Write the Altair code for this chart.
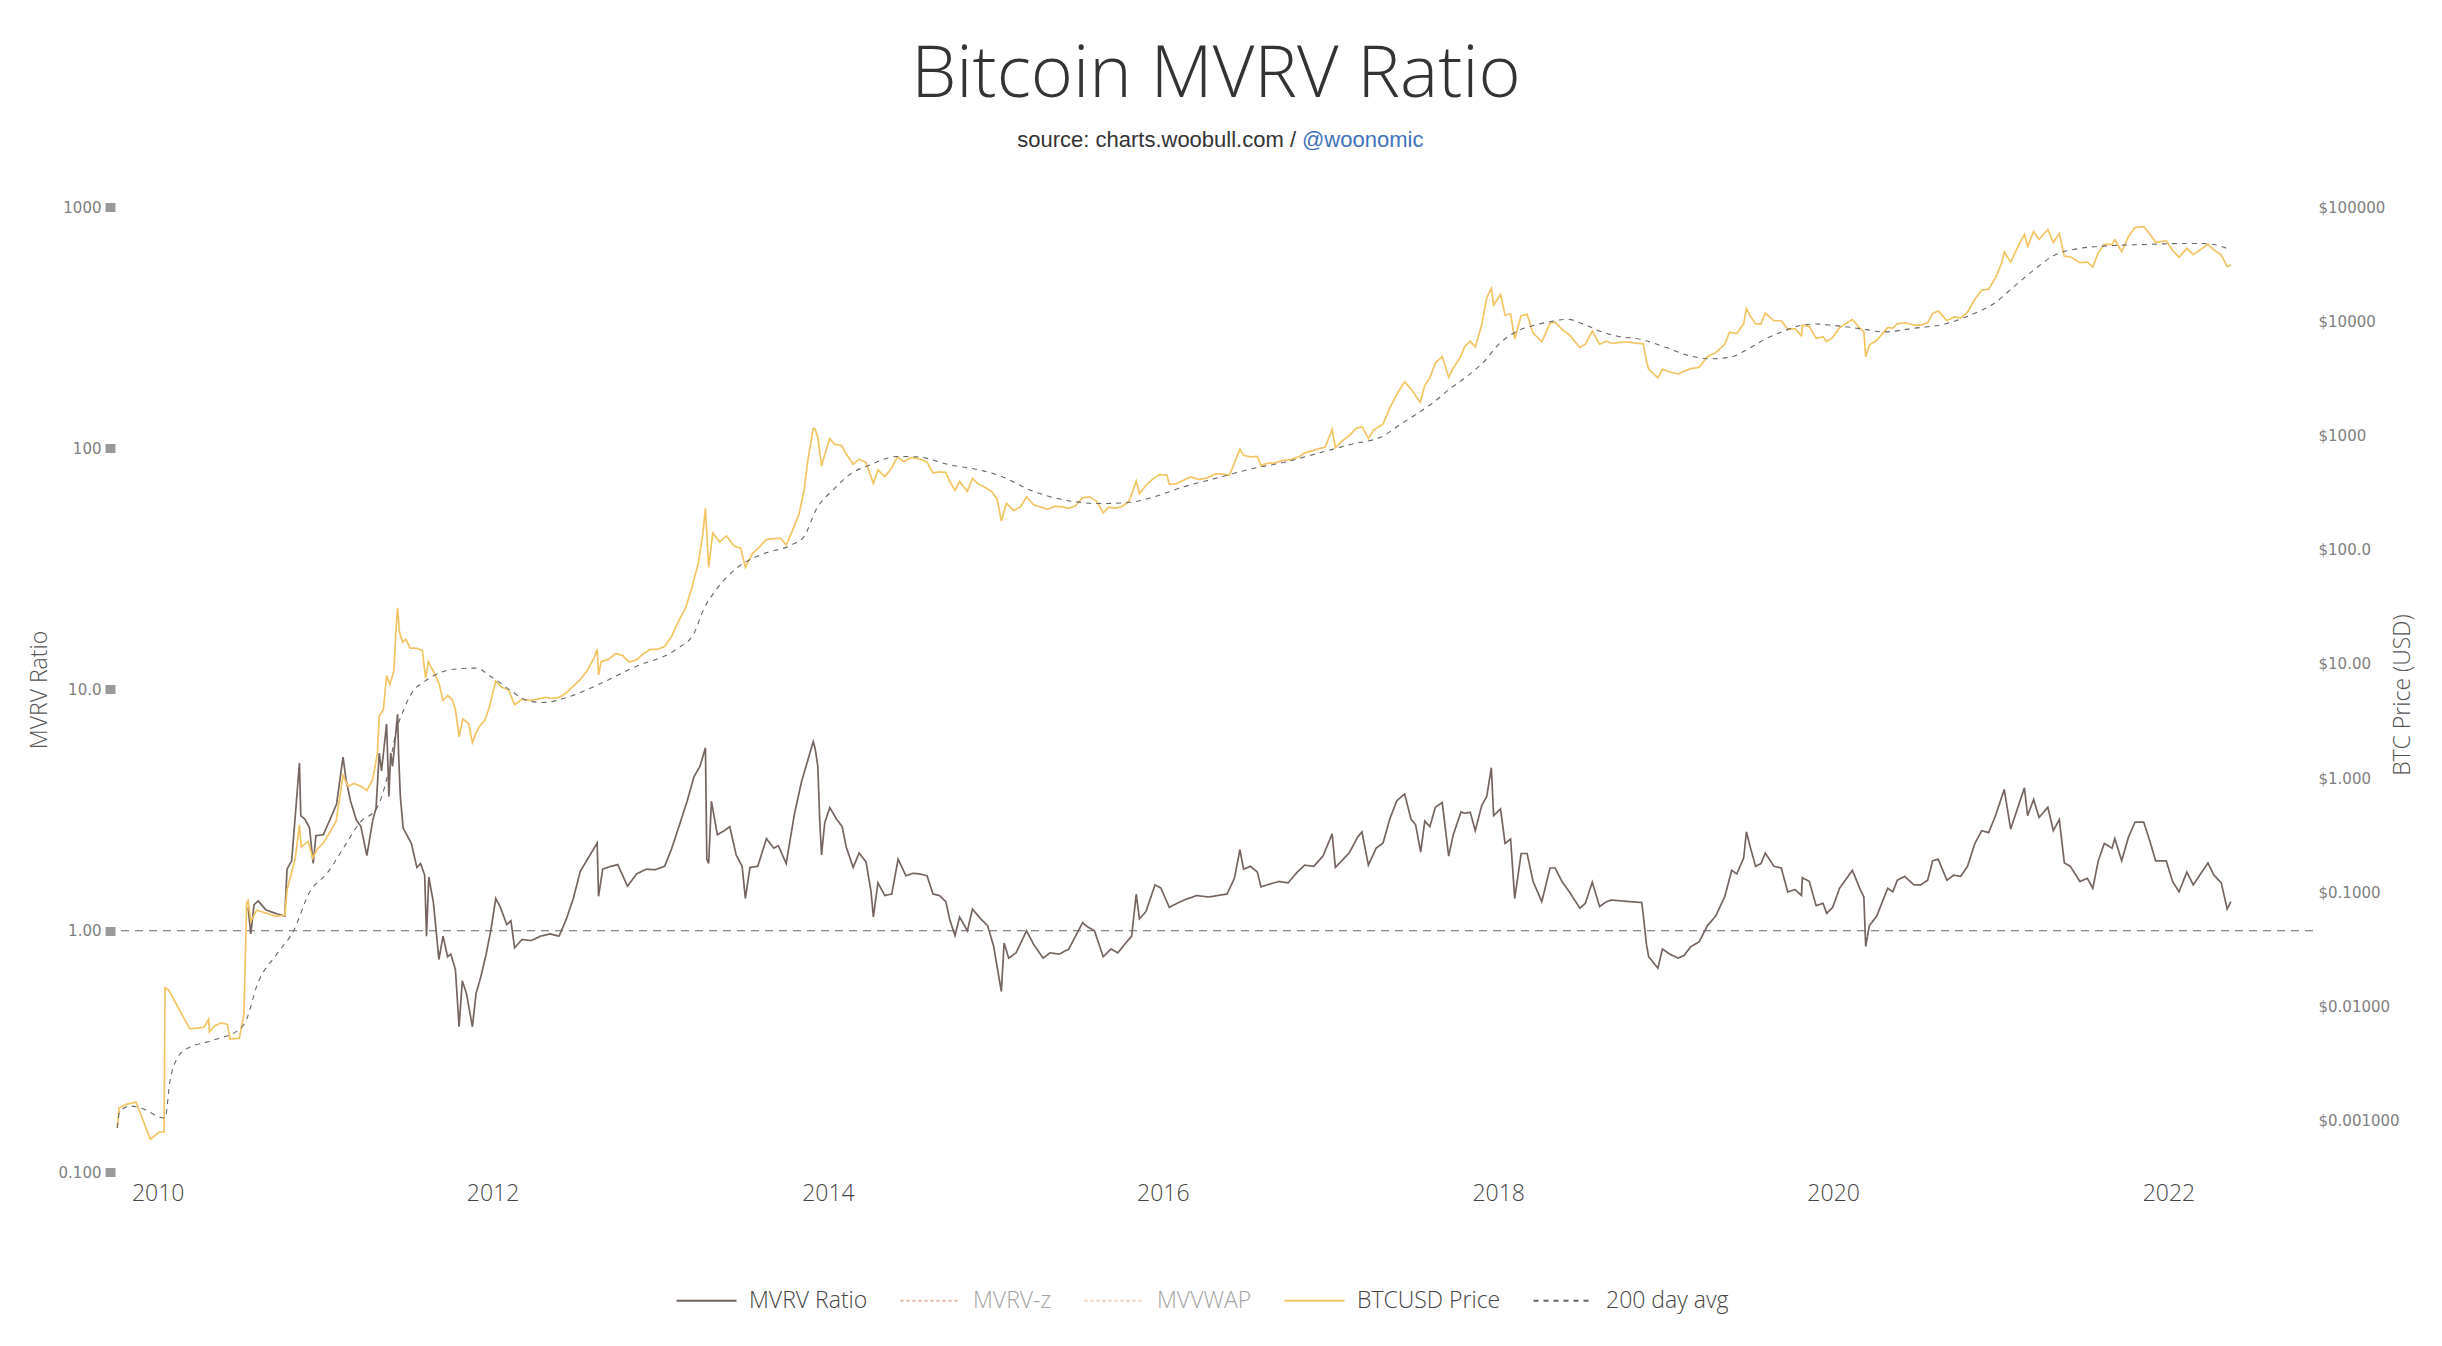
import altair as alt
import pandas as pd

# ---------------- series data ----------------
# BTCUSD daily price (USD), sampled at turning points
btc_price = [
    ("2009-10-05", 0.00087), ("2009-10-09", 0.0013), ("2009-10-25", 0.0014), ("2009-11-15", 0.00146),
    ("2009-12-16", 0.00069), ("2010-01-05", 0.0008), ("2010-01-15", 0.0008), ("2010-01-17", 0.0147),
    ("2010-01-25", 0.0140), ("2010-03-12", 0.0064), ("2010-04-12", 0.0066), ("2010-04-22", 0.0078),
    ("2010-04-24", 0.0060), ("2010-05-05", 0.0068), ("2010-05-20", 0.0072), ("2010-06-02", 0.0070),
    ("2010-06-08", 0.0052), ("2010-06-28", 0.0053), ("2010-07-08", 0.0087), ("2010-07-14", 0.081),
    ("2010-07-17", 0.085), ("2010-07-23", 0.056), ("2010-08-05", 0.070), ("2010-08-25", 0.066),
    ("2010-09-15", 0.062), ("2010-10-05", 0.063), ("2010-10-10", 0.105), ("2010-10-20", 0.15),
    ("2010-10-28", 0.20), ("2010-11-06", 0.39), ("2010-11-10", 0.25), ("2010-11-25", 0.28),
    ("2010-12-05", 0.20), ("2010-12-15", 0.24), ("2010-12-28", 0.27), ("2011-01-10", 0.33),
    ("2011-01-25", 0.42), ("2011-02-09", 1.06), ("2011-02-20", 0.85), ("2011-03-05", 0.90),
    ("2011-03-20", 0.85), ("2011-04-02", 0.78), ("2011-04-15", 0.98), ("2011-04-25", 1.65),
    ("2011-04-29", 3.5), ("2011-05-08", 4.0), ("2011-05-15", 7.9), ("2011-05-22", 6.6),
    ("2011-05-31", 8.7), ("2011-06-04", 18.5), ("2011-06-08", 31.0), ("2011-06-12", 19.0),
    ("2011-06-19", 15.5), ("2011-06-26", 16.5), ("2011-07-05", 13.8), ("2011-07-20", 13.7),
    ("2011-08-01", 13.1), ("2011-08-08", 7.5), ("2011-08-14", 10.5), ("2011-08-25", 8.6),
    ("2011-09-06", 6.8), ("2011-09-15", 4.8), ("2011-09-25", 5.3), ("2011-10-05", 4.9),
    ("2011-10-12", 4.0), ("2011-10-20", 2.3), ("2011-10-28", 3.3), ("2011-11-10", 3.0),
    ("2011-11-18", 2.05), ("2011-11-26", 2.5), ("2011-12-05", 2.9), ("2011-12-15", 3.2),
    ("2011-12-25", 4.2), ("2012-01-08", 7.1), ("2012-01-20", 6.3), ("2012-02-05", 5.9),
    ("2012-02-18", 4.4), ("2012-03-05", 4.9), ("2012-03-20", 4.8), ("2012-04-05", 4.9),
    ("2012-04-25", 5.1), ("2012-05-10", 5.0), ("2012-05-25", 5.1), ("2012-06-10", 5.6),
    ("2012-06-25", 6.4), ("2012-07-10", 7.3), ("2012-07-25", 8.7), ("2012-08-10", 11.5),
    ("2012-08-16", 13.5), ("2012-08-19", 8.0), ("2012-08-25", 10.5), ("2012-09-10", 11.0),
    ("2012-09-25", 12.3), ("2012-10-10", 11.9), ("2012-10-25", 10.4), ("2012-11-10", 10.9),
    ("2012-11-25", 12.3), ("2012-12-10", 13.4), ("2012-12-25", 13.4), ("2013-01-10", 14.2),
    ("2013-01-25", 17.4), ("2013-02-10", 24), ("2013-02-25", 31), ("2013-03-10", 46),
    ("2013-03-25", 78), ("2013-04-03", 135), ("2013-04-09", 230), ("2013-04-16", 70),
    ("2013-04-25", 140), ("2013-05-10", 117), ("2013-05-25", 132), ("2013-06-10", 108),
    ("2013-06-25", 103), ("2013-07-05", 70), ("2013-07-20", 92), ("2013-08-05", 106),
    ("2013-08-20", 123), ("2013-09-05", 125), ("2013-09-20", 126), ("2013-10-02", 110),
    ("2013-10-15", 145), ("2013-10-30", 205), ("2013-11-10", 330), ("2013-11-18", 600),
    ("2013-11-30", 1150), ("2013-12-04", 1140), ("2013-12-10", 960), ("2013-12-18", 540),
    ("2013-12-25", 680), ("2014-01-05", 940), ("2014-01-15", 840), ("2014-01-30", 820),
    ("2014-02-10", 690), ("2014-02-25", 560), ("2014-03-10", 620), ("2014-03-25", 580),
    ("2014-04-10", 380), ("2014-04-20", 500), ("2014-05-05", 435), ("2014-05-20", 520),
    ("2014-06-01", 650), ("2014-06-15", 590), ("2014-07-01", 640), ("2014-07-20", 625),
    ("2014-08-05", 585), ("2014-08-18", 470), ("2014-09-01", 480), ("2014-09-15", 475),
    ("2014-09-23", 400), ("2014-10-05", 330), ("2014-10-15", 395), ("2014-11-01", 325),
    ("2014-11-12", 420), ("2014-11-25", 375), ("2014-12-10", 350), ("2014-12-25", 320),
    ("2015-01-05", 275), ("2015-01-14", 178), ("2015-01-25", 255), ("2015-02-10", 220),
    ("2015-02-25", 238), ("2015-03-10", 290), ("2015-03-25", 248), ("2015-04-10", 236),
    ("2015-04-25", 226), ("2015-05-10", 240), ("2015-05-25", 238), ("2015-06-10", 230),
    ("2015-06-25", 243), ("2015-07-10", 285), ("2015-07-25", 290), ("2015-08-10", 265),
    ("2015-08-24", 210), ("2015-09-05", 235), ("2015-09-20", 231), ("2015-10-05", 240),
    ("2015-10-20", 269), ("2015-11-04", 400), ("2015-11-11", 310), ("2015-11-25", 365),
    ("2015-12-10", 415), ("2015-12-25", 455), ("2016-01-10", 448), ("2016-01-15", 375),
    ("2016-01-30", 378), ("2016-02-15", 405), ("2016-03-01", 433), ("2016-03-20", 412),
    ("2016-04-05", 423), ("2016-04-25", 462), ("2016-05-10", 460), ("2016-05-25", 448),
    ("2016-06-05", 575), ("2016-06-17", 760), ("2016-06-25", 670), ("2016-07-10", 650),
    ("2016-07-25", 655), ("2016-08-02", 545), ("2016-08-15", 570), ("2016-09-01", 575),
    ("2016-09-20", 608), ("2016-10-05", 612), ("2016-10-25", 655), ("2016-11-05", 705),
    ("2016-11-20", 730), ("2016-12-05", 765), ("2016-12-20", 790), ("2017-01-04", 1130),
    ("2017-01-11", 780), ("2017-01-25", 890), ("2017-02-10", 995), ("2017-02-25", 1150),
    ("2017-03-10", 1200), ("2017-03-24", 940), ("2017-04-05", 1120), ("2017-04-25", 1260),
    ("2017-05-10", 1750), ("2017-05-25", 2300), ("2017-06-11", 2950), ("2017-06-25", 2550),
    ("2017-07-15", 1950), ("2017-07-25", 2750), ("2017-08-05", 3200), ("2017-08-17", 4300),
    ("2017-09-01", 4900), ("2017-09-15", 3230), ("2017-09-25", 3900), ("2017-10-10", 4800),
    ("2017-10-20", 5990), ("2017-11-01", 6700), ("2017-11-12", 5950), ("2017-11-26", 9300),
    ("2017-12-07", 16000), ("2017-12-17", 19400), ("2017-12-22", 13800), ("2018-01-06", 17200),
    ("2018-01-16", 11300), ("2018-01-28", 11600), ("2018-02-06", 7000), ("2018-02-20", 11200),
    ("2018-03-05", 11500), ("2018-03-18", 7900), ("2018-04-06", 6600), ("2018-04-24", 9600),
    ("2018-05-05", 9800), ("2018-05-20", 8500), ("2018-06-05", 7600), ("2018-06-28", 5900),
    ("2018-07-10", 6300), ("2018-07-25", 8200), ("2018-08-10", 6300), ("2018-08-25", 6700),
    ("2018-09-05", 6400), ("2018-09-20", 6500), ("2018-10-10", 6600), ("2018-10-25", 6450),
    ("2018-11-13", 6350), ("2018-11-20", 4500), ("2018-11-25", 3800), ("2018-12-15", 3200),
    ("2018-12-25", 3800), ("2019-01-10", 3600), ("2019-01-28", 3450), ("2019-02-10", 3650),
    ("2019-02-25", 3850), ("2019-03-15", 3950), ("2019-04-02", 4900), ("2019-04-20", 5300),
    ("2019-05-10", 6300), ("2019-05-20", 8000), ("2019-06-05", 7800), ("2019-06-20", 9500),
    ("2019-06-26", 12900), ("2019-07-05", 11000), ("2019-07-16", 9500), ("2019-07-28", 9500),
    ("2019-08-06", 11800), ("2019-08-25", 10100), ("2019-09-10", 10100), ("2019-09-24", 8500),
    ("2019-10-10", 8600), ("2019-10-24", 7450), ("2019-10-26", 9250), ("2019-11-10", 9000),
    ("2019-11-25", 7100), ("2019-12-10", 7300), ("2019-12-18", 6650), ("2019-12-31", 7200),
    ("2020-01-15", 8800), ("2020-02-12", 10350), ("2020-02-28", 8700), ("2020-03-08", 8100),
    ("2020-03-12", 4900), ("2020-03-20", 6200), ("2020-04-05", 6800), ("2020-04-29", 8800),
    ("2020-05-10", 8700), ("2020-05-20", 9500), ("2020-06-05", 9700), ("2020-06-25", 9250),
    ("2020-07-10", 9250), ("2020-07-25", 9700), ("2020-08-05", 11700), ("2020-08-17", 12300),
    ("2020-09-05", 10100), ("2020-09-20", 10900), ("2020-10-05", 10700), ("2020-10-20", 12000),
    ("2020-11-05", 15600), ("2020-11-20", 18700), ("2020-12-05", 19100), ("2020-12-20", 24000),
    ("2021-01-03", 32800), ("2021-01-08", 40500), ("2021-01-22", 33000), ("2021-02-08", 46000),
    ("2021-02-21", 57500), ("2021-02-28", 45200), ("2021-03-13", 61000), ("2021-03-25", 52000),
    ("2021-04-13", 63500), ("2021-04-25", 49000), ("2021-05-08", 58800), ("2021-05-19", 37000),
    ("2021-06-01", 36700), ("2021-06-22", 32500), ("2021-07-08", 33000), ("2021-07-20", 29800),
    ("2021-08-01", 39900), ("2021-08-14", 47000), ("2021-08-31", 47100), ("2021-09-06", 51700),
    ("2021-09-21", 40700), ("2021-10-06", 55300), ("2021-10-20", 66000), ("2021-11-08", 67500),
    ("2021-11-20", 59000), ("2021-12-04", 49000), ("2021-12-27", 50700), ("2022-01-10", 41800),
    ("2022-01-24", 36300), ("2022-02-10", 43500), ("2022-02-24", 38300), ("2022-03-28", 47100),
    ("2022-04-10", 42100), ("2022-04-26", 38100), ("2022-05-09", 30000), ("2022-05-17", 31300),
]

# 200 day moving average of the price (USD)
btc_200d_avg = [
    ("2009-10-05", 0.00087), ("2009-10-10", 0.0012), ("2009-11-02", 0.00135), ("2009-11-24", 0.0013),
    ("2010-01-17", 0.00106), ("2010-01-28", 0.00226), ("2010-02-12", 0.0035), ("2010-03-06", 0.0043),
    ("2010-04-25", 0.0050), ("2010-06-30", 0.0064), ("2010-07-14", 0.0078), ("2010-08-05", 0.0152),
    ("2010-09-18", 0.029), ("2010-10-24", 0.046), ("2010-11-29", 0.102), ("2011-01-05", 0.147),
    ("2011-02-10", 0.245), ("2011-03-18", 0.41), ("2011-04-24", 0.55), ("2011-05-16", 1.01),
    ("2011-06-06", 2.67), ("2011-06-21", 3.96), ("2011-07-13", 5.9), ("2011-08-03", 6.9),
    ("2011-09-09", 8.4), ("2011-10-22", 9.1), ("2011-11-28", 9.2), ("2011-12-27", 7.8),
    ("2012-01-10", 7.2), ("2012-02-08", 5.9), ("2012-03-16", 4.8), ("2012-04-21", 4.6),
    ("2012-06-18", 5.2), ("2012-08-22", 6.7), ("2012-11-03", 9.3), ("2013-02-06", 13.6),
    ("2013-03-14", 18.2), ("2013-04-05", 30), ("2013-05-04", 45.5), ("2013-06-16", 69),
    ("2013-08-13", 92), ("2013-10-11", 109), ("2013-11-09", 129), ("2013-12-08", 231),
    ("2014-01-13", 336), ("2014-02-18", 457), ("2014-04-03", 553), ("2014-05-31", 655),
    ("2014-07-14", 650), ("2014-09-24", 553), ("2014-12-06", 490), ("2015-01-11", 443),
    ("2015-03-25", 324), ("2015-06-06", 270), ("2015-08-17", 254), ("2015-10-15", 258),
    ("2015-12-04", 283), ("2016-02-15", 355), ("2016-04-28", 424), ("2016-07-09", 508),
    ("2016-09-20", 581), ("2016-12-02", 695), ("2017-02-12", 832), ("2017-04-26", 994),
    ("2017-06-01", 1244), ("2017-07-08", 1550), ("2017-08-13", 1950), ("2017-09-18", 2570),
    ("2017-10-25", 3290), ("2017-11-30", 4390), ("2018-01-05", 6440), ("2018-02-11", 8180),
    ("2018-03-19", 9180), ("2018-04-24", 9910), ("2018-05-31", 10400), ("2018-07-06", 9450),
    ("2018-08-11", 8180), ("2018-09-16", 7420), ("2018-11-10", 6920), ("2019-01-04", 5850),
    ("2019-02-23", 4970), ("2019-04-08", 4690), ("2019-05-21", 4840), ("2019-07-04", 5850),
    ("2019-08-09", 7080), ("2019-09-15", 8180), ("2019-10-21", 9180), ("2019-11-26", 9450),
    ("2020-01-02", 9180), ("2020-02-07", 8850), ("2020-03-14", 8440), ("2020-04-20", 8070),
    ("2020-06-24", 8670), ("2020-09-05", 9550), ("2020-11-02", 11640), ("2020-12-15", 14140),
    ("2021-01-28", 19900), ("2021-03-13", 28000), ("2021-04-25", 37400), ("2021-06-22", 43400),
    ("2021-09-03", 46000), ("2021-11-15", 47000), ("2022-01-26", 47900), ("2022-03-11", 47900),
    ("2022-04-09", 47000), ("2022-05-17", 42100),
]

# MVRV ratio (market value / realised value)
mvrv_ratio = [
    ("2010-07-17", 1.25), ("2010-07-23", 0.97), ("2010-07-30", 1.28), ("2010-08-08", 1.33),
    ("2010-08-25", 1.22), ("2010-09-15", 1.18), ("2010-10-05", 1.15), ("2010-10-10", 1.80),
    ("2010-10-20", 1.95), ("2010-10-28", 3.0), ("2010-11-06", 4.96), ("2010-11-09", 3.0),
    ("2010-11-18", 2.9), ("2010-11-28", 2.67), ("2010-12-06", 1.9), ("2010-12-12", 2.48),
    ("2010-12-28", 2.5), ("2011-01-12", 2.9), ("2011-01-26", 3.35), ("2011-02-09", 5.25),
    ("2011-02-16", 4.19), ("2011-02-25", 3.47), ("2011-03-10", 2.88), ("2011-03-20", 2.7),
    ("2011-04-02", 2.05), ("2011-04-15", 2.88), ("2011-04-22", 3.22), ("2011-04-29", 5.45),
    ("2011-05-04", 4.6), ("2011-05-15", 7.2), ("2011-05-20", 3.6), ("2011-05-24", 5.45),
    ("2011-05-28", 4.8), ("2011-06-08", 7.9), ("2011-06-10", 5.5), ("2011-06-14", 3.6),
    ("2011-06-20", 2.67), ("2011-06-28", 2.5), ("2011-07-08", 2.3), ("2011-07-20", 1.83),
    ("2011-07-28", 1.9), ("2011-08-06", 1.70), ("2011-08-10", 0.95), ("2011-08-15", 1.67),
    ("2011-08-25", 1.31), ("2011-09-06", 0.76), ("2011-09-15", 0.95), ("2011-09-25", 0.78),
    ("2011-10-02", 0.80), ("2011-10-12", 0.69), ("2011-10-20", 0.40), ("2011-10-27", 0.62),
    ("2011-11-05", 0.55), ("2011-11-18", 0.40), ("2011-11-26", 0.55), ("2011-12-06", 0.64),
    ("2011-12-18", 0.80), ("2011-12-28", 1.0), ("2012-01-08", 1.36), ("2012-01-18", 1.25),
    ("2012-02-01", 1.06), ("2012-02-10", 1.1), ("2012-02-18", 0.85), ("2012-03-05", 0.92),
    ("2012-03-25", 0.91), ("2012-04-15", 0.95), ("2012-05-05", 0.97), ("2012-05-25", 0.95),
    ("2012-06-10", 1.12), ("2012-06-25", 1.36), ("2012-07-10", 1.76), ("2012-07-28", 2.01),
    ("2012-08-16", 2.31), ("2012-08-19", 1.39), ("2012-08-28", 1.8), ("2012-09-15", 1.85),
    ("2012-09-30", 1.88), ("2012-10-21", 1.53), ("2012-11-10", 1.72), ("2012-12-01", 1.80),
    ("2012-12-20", 1.79), ("2013-01-10", 1.85), ("2013-01-25", 2.18), ("2013-02-12", 2.77),
    ("2013-02-28", 3.44), ("2013-03-15", 4.35), ("2013-03-28", 4.8), ("2013-04-09", 5.73),
    ("2013-04-12", 1.98), ("2013-04-16", 1.9), ("2013-04-22", 3.44), ("2013-05-05", 2.5),
    ("2013-05-20", 2.6), ("2013-06-01", 2.7), ("2013-06-15", 2.06), ("2013-06-28", 1.85),
    ("2013-07-05", 1.36), ("2013-07-15", 1.83), ("2013-08-01", 1.85), ("2013-08-20", 2.41),
    ("2013-09-05", 2.2), ("2013-09-15", 2.25), ("2013-10-02", 1.9), ("2013-10-20", 3.05),
    ("2013-11-05", 4.19), ("2013-11-30", 6.08), ("2013-12-04", 5.7), ("2013-12-10", 4.8),
    ("2013-12-14", 2.9), ("2013-12-18", 2.06), ("2013-12-25", 2.8), ("2014-01-05", 3.24),
    ("2014-01-20", 2.9), ("2014-02-01", 2.7), ("2014-02-10", 2.22), ("2014-02-25", 1.83),
    ("2014-03-10", 2.1), ("2014-03-25", 1.93), ("2014-04-05", 1.45), ("2014-04-10", 1.14),
    ("2014-04-20", 1.58), ("2014-05-05", 1.4), ("2014-05-20", 1.42), ("2014-06-03", 1.98),
    ("2014-06-20", 1.69), ("2014-07-05", 1.73), ("2014-07-20", 1.72), ("2014-08-05", 1.69),
    ("2014-08-18", 1.42), ("2014-09-01", 1.40), ("2014-09-15", 1.32), ("2014-09-23", 1.12),
    ("2014-10-05", 0.955), ("2014-10-15", 1.14), ("2014-11-01", 1.0), ("2014-11-12", 1.23),
    ("2014-11-30", 1.12), ("2014-12-15", 1.05), ("2014-12-28", 0.865), ("2015-01-14", 0.56),
    ("2015-01-20", 0.89), ("2015-01-30", 0.77), ("2015-02-15", 0.81), ("2015-03-10", 1.0),
    ("2015-03-25", 0.88), ("2015-04-15", 0.77), ("2015-04-30", 0.81), ("2015-05-20", 0.80),
    ("2015-06-10", 0.84), ("2015-07-10", 1.08), ("2015-07-20", 1.04), ("2015-08-05", 1.0),
    ("2015-08-24", 0.78), ("2015-09-10", 0.84), ("2015-09-25", 0.81), ("2015-10-10", 0.88),
    ("2015-10-25", 0.95), ("2015-11-04", 1.42), ("2015-11-11", 1.12), ("2015-11-25", 1.2),
    ("2015-12-15", 1.55), ("2015-12-28", 1.5), ("2016-01-15", 1.25), ("2016-02-01", 1.3),
    ("2016-02-20", 1.35), ("2016-03-15", 1.4), ("2016-04-10", 1.38), ("2016-04-30", 1.40),
    ("2016-05-20", 1.42), ("2016-06-05", 1.65), ("2016-06-17", 2.17), ("2016-06-25", 1.8),
    ("2016-07-10", 1.85), ("2016-07-25", 1.75), ("2016-08-02", 1.52), ("2016-08-20", 1.56),
    ("2016-09-10", 1.6), ("2016-09-30", 1.58), ("2016-10-20", 1.75), ("2016-11-05", 1.87),
    ("2016-11-25", 1.85), ("2016-12-15", 2.04), ("2017-01-04", 2.52), ("2017-01-11", 1.83),
    ("2017-01-25", 1.95), ("2017-02-10", 2.1), ("2017-03-01", 2.45), ("2017-03-10", 2.57),
    ("2017-03-24", 1.87), ("2017-04-10", 2.2), ("2017-04-25", 2.31), ("2017-05-10", 2.92),
    ("2017-05-25", 3.46), ("2017-06-11", 3.69), ("2017-06-25", 2.9), ("2017-07-05", 2.75),
    ("2017-07-16", 2.12), ("2017-07-25", 2.85), ("2017-08-05", 2.7), ("2017-08-17", 3.25),
    ("2017-09-01", 3.4), ("2017-09-15", 2.04), ("2017-09-25", 2.5), ("2017-10-12", 3.11),
    ("2017-10-20", 3.07), ("2017-11-01", 3.1), ("2017-11-12", 2.6), ("2017-11-26", 3.3),
    ("2017-12-07", 3.6), ("2017-12-17", 4.74), ("2017-12-22", 3.0), ("2018-01-06", 3.2),
    ("2018-01-16", 2.3), ("2018-01-28", 2.4), ("2018-02-06", 1.36), ("2018-02-20", 2.09),
    ("2018-03-05", 2.09), ("2018-03-18", 1.6), ("2018-04-06", 1.32), ("2018-04-24", 1.82),
    ("2018-05-05", 1.82), ("2018-05-20", 1.6), ("2018-06-05", 1.45), ("2018-06-28", 1.24),
    ("2018-07-10", 1.3), ("2018-07-25", 1.59), ("2018-08-10", 1.26), ("2018-08-25", 1.32),
    ("2018-09-05", 1.34), ("2018-09-25", 1.33), ("2018-10-15", 1.32), ("2018-11-10", 1.31),
    ("2018-11-15", 1.08), ("2018-11-20", 0.88), ("2018-11-25", 0.78), ("2018-12-15", 0.70),
    ("2018-12-25", 0.84), ("2019-01-10", 0.80), ("2019-01-28", 0.77), ("2019-02-10", 0.79),
    ("2019-02-25", 0.86), ("2019-03-15", 0.9), ("2019-04-02", 1.05), ("2019-04-20", 1.15),
    ("2019-05-10", 1.39), ("2019-05-25", 1.78), ("2019-06-05", 1.72), ("2019-06-20", 2.0),
    ("2019-06-26", 2.57), ("2019-07-05", 2.2), ("2019-07-16", 1.85), ("2019-07-28", 1.9),
    ("2019-08-06", 2.1), ("2019-08-25", 1.85), ("2019-09-10", 1.82), ("2019-09-24", 1.45),
    ("2019-10-10", 1.48), ("2019-10-24", 1.40), ("2019-10-26", 1.66), ("2019-11-10", 1.6),
    ("2019-11-25", 1.27), ("2019-12-10", 1.3), ("2019-12-18", 1.18), ("2019-12-31", 1.25),
    ("2020-01-15", 1.5), ("2020-02-12", 1.78), ("2020-02-28", 1.5), ("2020-03-08", 1.38),
    ("2020-03-12", 0.86), ("2020-03-20", 1.05), ("2020-04-05", 1.15), ("2020-04-29", 1.5),
    ("2020-05-10", 1.45), ("2020-05-20", 1.62), ("2020-06-05", 1.68), ("2020-06-25", 1.55),
    ("2020-07-10", 1.55), ("2020-07-25", 1.62), ("2020-08-05", 1.95), ("2020-08-17", 1.98),
    ("2020-09-05", 1.62), ("2020-09-20", 1.70), ("2020-10-05", 1.68), ("2020-10-20", 1.85),
    ("2020-11-05", 2.3), ("2020-11-20", 2.6), ("2020-12-05", 2.55), ("2020-12-20", 3.0),
    ("2021-01-08", 3.85), ("2021-01-22", 2.64), ("2021-02-08", 3.3), ("2021-02-21", 3.91),
    ("2021-02-28", 3.0), ("2021-03-13", 3.5), ("2021-03-25", 2.95), ("2021-04-13", 3.25),
    ("2021-04-25", 2.6), ("2021-05-08", 2.89), ("2021-05-19", 1.91), ("2021-06-01", 1.85),
    ("2021-06-22", 1.6), ("2021-07-08", 1.65), ("2021-07-20", 1.50), ("2021-08-01", 1.95),
    ("2021-08-14", 2.3), ("2021-08-31", 2.2), ("2021-09-06", 2.41), ("2021-09-21", 1.95),
    ("2021-10-06", 2.45), ("2021-10-20", 2.82), ("2021-11-08", 2.82), ("2021-11-20", 2.4),
    ("2021-12-04", 1.95), ("2021-12-27", 1.95), ("2022-01-10", 1.6), ("2022-01-24", 1.45),
    ("2022-02-10", 1.75), ("2022-02-24", 1.55), ("2022-03-28", 1.91), ("2022-04-10", 1.7),
    ("2022-04-26", 1.58), ("2022-05-09", 1.23), ("2022-05-17", 1.32),
]

series_names = ["MVRV Ratio", "MVRV-z", "MVVWAP", "BTCUSD Price", "200 day avg"]
series_colors = ["#76655f", "#e9b7a4", "#f4d0b8", "#f2c462", "#666666"]
series_dashes = [[1, 0], [3, 3], [3, 3], [1, 0], [5, 5]]

mvrv_ticks = [0.1, 1, 10, 100, 1000]
price_ticks = [0.001, 0.01, 0.1, 1, 10, 100, 1000, 10000, 100000]
year_ticks = [2010, 2012, 2014, 2016, 2018, 2020, 2022]


def frame(rows, name):
    return pd.DataFrame({"date": [r[0] for r in rows], "value": [r[1] for r in rows], "series": name})


data = pd.concat([
    frame(mvrv_ratio, "MVRV Ratio"),
    frame(btc_price, "BTCUSD Price"),
    frame(btc_200d_avg, "200 day avg"),
], ignore_index=True)

W, H = 2198, 965

x_enc = alt.X(
    "date:T",
    title=None,
    scale=alt.Scale(type="utc", domain=["2009-09-30", "2022-11-12"]),
    axis=alt.Axis(
        values=[alt.DateTime(year=y, month=1, date=1, utc=True) for y in year_ticks],
        format="%Y", formatType="utc", ticks=False, domain=False, grid=False,
        labelFont="Open Sans", labelFontWeight=300, labelFontSize=23, labelColor="#444",
        labelPadding=10,
    ),
)

legend = alt.Legend(
    title=None, orient="none", legendX=560, legendY=1062, direction="horizontal",
    symbolType="stroke", symbolSize=3600, symbolStrokeWidth=2.2, padding=0,
    labelFont="Open Sans", labelFontWeight=300, labelFontSize=23, labelOffset=11,
    labelLimit=400, columnPadding=28,
    labelColor=alt.ExprRef(expr="indexof(['MVRV-z','MVVWAP'], datum.label) >= 0 ? '#a3a3a3' : '#444444'"),
)
color_enc = alt.Color("series:N", scale=alt.Scale(domain=series_names, range=series_colors), legend=legend)
dash_enc = alt.StrokeDash("series:N", scale=alt.Scale(domain=series_names, range=series_dashes), legend=legend)

left_axis = alt.Axis(
    values=mvrv_ticks, format=".3r", title="MVRV Ratio", grid=False, domain=False,
    ticks=True, tickSize=10, tickWidth=9, tickCap="butt", tickColor="#9a9a9a", labelPadding=4,
    labelFont="DejaVu Sans", labelFontSize=15, labelColor="#808080",
    titleFont="Open Sans", titleFontWeight=300, titleFontSize=23, titleColor="#555",
    titleAngle=270, titleX=-76, titleY=H / 2, titleAlign="center", titleBaseline="middle",
)
right_axis = alt.Axis(
    orient="right", values=price_ticks, format="$.4r", title="BTC Price (USD)", grid=False,
    domain=False, ticks=False, labelPadding=5,
    labelFont="DejaVu Sans", labelFontSize=15, labelColor="#808080",
    titleFont="Open Sans", titleFontWeight=300, titleFontSize=23, titleColor="#555",
    titleAngle=270, titleX=89, titleY=H / 2 + 5, titleAlign="center", titleBaseline="middle",
)
left_scale = alt.Scale(type="log", domain=[0.1, 1000])
right_scale = alt.Scale(type="log", domain=[10 ** -3.447, 100000])

# left axis: MVRV ratio with its reference level at 1.0
parity = alt.Chart(pd.DataFrame({"value": [1.0]})).mark_rule(
    color="#666", strokeDash=[8, 6], strokeWidth=1
).encode(y=alt.Y("value:Q", scale=left_scale, axis=left_axis))

mvrv_line = alt.Chart(data).transform_filter(
    alt.datum.series == "MVRV Ratio"
).mark_line(strokeWidth=1.7).encode(
    x=x_enc, y=alt.Y("value:Q", scale=left_scale, axis=left_axis), color=color_enc, strokeDash=dash_enc
)

left_layer = alt.layer(parity, mvrv_line)

# right axis: price and its 200 day average
avg_line = alt.Chart(data).transform_filter(
    alt.datum.series == "200 day avg"
).mark_line(strokeWidth=1.1, interpolate="monotone").encode(
    x=x_enc, y=alt.Y("value:Q", scale=right_scale, axis=right_axis), color=color_enc, strokeDash=dash_enc
)
price_line = alt.Chart(data).transform_filter(
    alt.datum.series == "BTCUSD Price"
).mark_line(strokeWidth=1.7).encode(
    x=x_enc, y=alt.Y("value:Q", scale=right_scale, axis=right_axis), color=color_enc, strokeDash=dash_enc
)
right_layer = alt.layer(price_line, avg_line)

# headline and source line
title_text = alt.Chart(pd.DataFrame({"t": ["Bitcoin MVRV Ratio"]})).mark_text(
    font="Open Sans", fontWeight=300, fontSize=72, color="#333", align="center", baseline="alphabetic"
).encode(text="t:N", x=alt.value(1101), y=alt.value(-110))
source_text = alt.Chart(pd.DataFrame({"t": ["source: charts.woobull.com /"]})).mark_text(
    font="Liberation Sans", fontSize=22, color="#333", align="right", baseline="alphabetic"
).encode(text="t:N", x=alt.value(1181), y=alt.value(-60))
handle_text = alt.Chart(pd.DataFrame({"t": ["@woonomic"]})).mark_text(
    font="Liberation Sans", fontSize=22, color="#3f72ba", align="left", baseline="alphabetic"
).encode(text="t:N", x=alt.value(1187), y=alt.value(-60))

chart = alt.layer(
    left_layer, right_layer, title_text, source_text, handle_text
).resolve_scale(
    y="independent"
).properties(
    width=W, height=H,
    background="white",
    autosize=alt.AutoSizeParams(type="none"),
    padding={"left": 115, "top": 207, "right": 129, "bottom": 174},
).configure_view(
    stroke=None
)

chart.save("out.html", embed_options={"renderer": "svg", "actions": False})
